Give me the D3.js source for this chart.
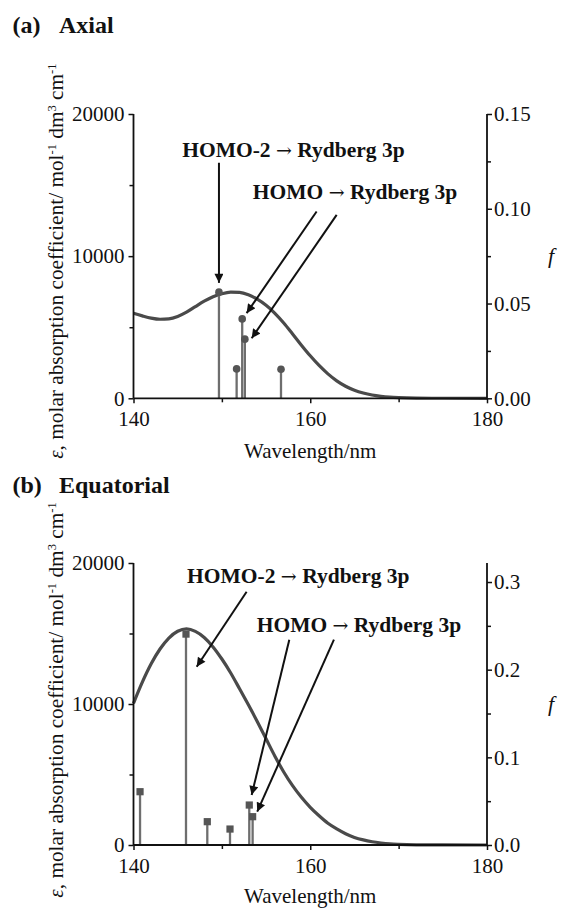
<!DOCTYPE html>
<html><head><meta charset="utf-8">
<script src="https://cdn.jsdelivr.net/npm/d3@7"></script>
<style>
body{margin:0;background:#fff}
text{font-family:"Liberation Serif","Times New Roman",serif;fill:#111}
</style>
</head><body>
<svg id="chart" width="561" height="909"></svg>
<script>
// ---------- data ----------
const panelLetters = ["(a)", "(b)"];
const panelNames = ["Axial", "Equatorial"];
const wavelengths = [140,141,142,143,144,145,146,147,148,149,150,151,152,153,154,155,156,157,158,159,160,161,162,163,164,165,166,167,168,169,170,172,175,180];
const epsAxial = [5990,5800,5640,5560,5590,5760,6060,6450,6830,7140,7360,7470,7450,7280,6970,6540,5980,5300,4530,3740,2990,2310,1720,1230,850,570,370,230,140,80,45,12,2,0];
const epsEquatorial = [10050,11550,12850,13900,14680,15160,15330,15150,14720,14050,13190,12200,11080,9940,8760,7530,6300,5180,4210,3380,2670,2070,1540,1140,800,540,360,230,140,75,40,10,2,0];
const stickAxialNm = [149.67,151.67,152.30,152.60,156.69];
const stickAxialF = [0.0560,0.0155,0.0419,0.0312,0.0153];
const stickEqNm = [140.74,145.94,148.35,150.92,153.10,153.48];
const stickEqF = [0.0608,0.2406,0.0266,0.0182,0.0456,0.0323];
const xTicks = [140,160,180];
const xMinor = [150,170];
const epsTicks = [0,10000,20000];
const epsMinor = [5000,15000];
const fTicksA = [0,0.05,0.10,0.15];
const fMinorA = [0.025,0.075,0.125];
const fTicksB = [0,0.1,0.2,0.3];
const fMinorB = [0.05,0.15,0.25];
const labelParts = [["HOMO-2 ","\u2192"," Rydberg 3p"],["HOMO ","\u2192"," Rydberg 3p"]];
// annotation positions in data units [nm, eps]
const annoTextA = [[158.1,16990,"middle"],[153.5,14040,"start"]];
const annoArrowsA = [[149.67,16570,149.67,8120],[160.72,13140,152.8,5990],[162.99,12900,153.37,4225]];
const annoTextB = [[158.65,18580,"middle"],[153.94,15110,"start"]];
const annoArrowsB = [[152.8,17965,147.15,12645],[157.63,14560,153.37,3546],[162.68,14560,154.0,2363]];

// ---------- drawing ----------
const svg = d3.select("#chart");
const defs = svg.append("defs");
defs.append("marker").attr("id","ah").attr("viewBox","0 0 10 10")
  .attr("refX",10).attr("refY",5).attr("markerWidth",12).attr("markerHeight",9)
  .attr("markerUnits","userSpaceOnUse").attr("orient","auto")
  .append("path").attr("d","M0,0 L10,5 L0,10 Z").attr("fill","#111");

const X0 = 133.5, X1 = 487;

function panel(o){
  const g = svg.append("g");
  const x = d3.scaleLinear().domain([140,180]).range([X0,X1]);
  const y = d3.scaleLinear().domain([0,20000]).range([o.y0,o.y1]);
  const yf = d3.scaleLinear().domain([0,o.fMax]).range([o.y0,o.y1]);

  // title
  g.append("text").attr("x",12.5).attr("y",o.titleY).attr("font-size",24)
    .attr("font-weight","bold").text(o.letter);
  g.append("text").attr("x",59).attr("y",o.titleY).attr("font-size",24)
    .attr("font-weight","bold").text(o.name);

  // curve
  const line = d3.line().x((d,i)=>x(wavelengths[i])).y(d=>y(d)).curve(d3.curveMonotoneX);
  g.append("path").attr("d",line(o.eps)).attr("fill","none")
    .attr("stroke","#4a4a4a").attr("stroke-width",3.2);

  // sticks
  o.nm.forEach((w,i)=>{
    g.append("line").attr("x1",x(w)).attr("x2",x(w)).attr("y1",yf(0)).attr("y2",yf(o.f[i]))
      .attr("stroke","#6e6e6e").attr("stroke-width",2.3);
    if(o.marker==="circle"){
      g.append("circle").attr("cx",x(w)).attr("cy",yf(o.f[i])).attr("r",3.8).attr("fill","#555");
    } else {
      g.append("rect").attr("x",x(w)-3.6).attr("y",yf(o.f[i])-3.6).attr("width",7.2).attr("height",7.2).attr("fill","#555");
    }
  });

  // axes
  const ax = g.append("g").attr("transform",`translate(0,${o.y0})`)
    .call(d3.axisBottom(x).tickValues(xTicks).tickSize(5).tickPadding(8).tickFormat(d3.format("d")));
  const axm = g.append("g").attr("transform",`translate(0,${o.y0})`)
    .call(d3.axisBottom(x).tickValues(xMinor).tickSize(4).tickFormat(""));
  const ay = g.append("g").attr("transform",`translate(${X0},0)`)
    .call(d3.axisLeft(y).tickValues(epsTicks).tickSize(5).tickPadding(4).tickFormat(d3.format("d")));
  const aym = g.append("g").attr("transform",`translate(${X0},0)`)
    .call(d3.axisLeft(y).tickValues(epsMinor).tickSize(4).tickFormat(""));
  const af = g.append("g").attr("transform",`translate(${X1},0)`)
    .call(d3.axisRight(yf).tickValues(o.fTicks).tickSize(5).tickPadding(2).tickFormat(d3.format(o.fFmt)));
  const afm = g.append("g").attr("transform",`translate(${X1},0)`)
    .call(d3.axisRight(yf).tickValues(o.fMinor).tickSize(4).tickFormat(""));
  [axm,aym,afm].forEach(a=>a.select(".domain").remove());
  g.selectAll(".domain").attr("stroke","#111").attr("stroke-width",1.8);
  g.selectAll(".tick line").attr("stroke","#111").attr("stroke-width",1.5);
  g.selectAll(".tick text").attr("font-size",21).attr("font-family","Liberation Serif, serif").attr("fill","#222");
  ax.select(".domain").attr("d",`M${X0},0H${X1}`);
  ay.select(".domain").attr("d",`M0,${o.y0}V${o.y1}`);
  af.select(".domain").attr("d",`M0,${o.y0}V${o.y1}`);

  // axis titles
  g.append("text").attr("x",(X0+X1)/2).attr("y",o.y0+o.xlabDy).attr("text-anchor","middle")
    .attr("font-size",21).text("Wavelength/nm");
  const yl = g.append("text").attr("transform",`translate(63,${(o.y0+o.y1)/2+o.ylabDy}) rotate(-90)`)
    .attr("text-anchor","middle").attr("font-size",21.3);
  yl.append("tspan").attr("font-style","italic").text("\u03b5");
  yl.append("tspan").text(", molar absorption coefficient/ mol");
  yl.append("tspan").attr("baseline-shift","super").attr("font-size",12.5).text("-1");
  yl.append("tspan").text(" dm");
  yl.append("tspan").attr("baseline-shift","super").attr("font-size",12.5).text("3");
  yl.append("tspan").text(" cm");
  yl.append("tspan").attr("baseline-shift","super").attr("font-size",12.5).text("-1");
  g.append("text").attr("x",551).attr("y",(o.y0+o.y1)/2+7).attr("text-anchor","middle")
    .attr("font-size",22).attr("font-style","italic").text("f");

  // annotations
  o.annoText.forEach((t,i)=>{
    const tx = g.append("text").attr("x",x(t[0])).attr("y",y(t[1])).attr("text-anchor",t[2])
      .attr("font-size",21.5).attr("font-weight","bold").attr("fill","#222");
    const p = labelParts[i];
    tx.append("tspan").text(p[0]);
    tx.append("tspan").attr("font-family","DejaVu Serif").attr("font-weight","normal").attr("font-size",19).text(p[1]);
    tx.append("tspan").text(p[2]);
  });
  o.annoArrows.forEach(a=>{
    g.append("line").attr("x1",x(a[0])).attr("y1",y(a[1])).attr("x2",x(a[2])).attr("y2",y(a[3]))
      .attr("stroke","#111").attr("stroke-width",2).attr("marker-end","url(#ah)");
  });
}

panel({letter:panelLetters[0],name:panelNames[0],titleY:33,y0:398.3,y1:114,fMax:0.15,eps:epsAxial,nm:stickAxialNm,f:stickAxialF,
  marker:"circle",fTicks:fTicksA,fMinor:fMinorA,fFmt:".2f",annoText:annoTextA,annoArrows:annoArrowsA,xlabDy:60,ylabDy:5});
panel({letter:panelLetters[1],name:panelNames[1],titleY:493,y0:845,y1:563,fMax:0.3217,eps:epsEquatorial,nm:stickEqNm,f:stickEqF,
  marker:"square",fTicks:fTicksB,fMinor:fMinorB,fFmt:".1f",annoText:annoTextB,annoArrows:annoArrowsB,xlabDy:58,ylabDy:-4});
</script>
</body></html>
